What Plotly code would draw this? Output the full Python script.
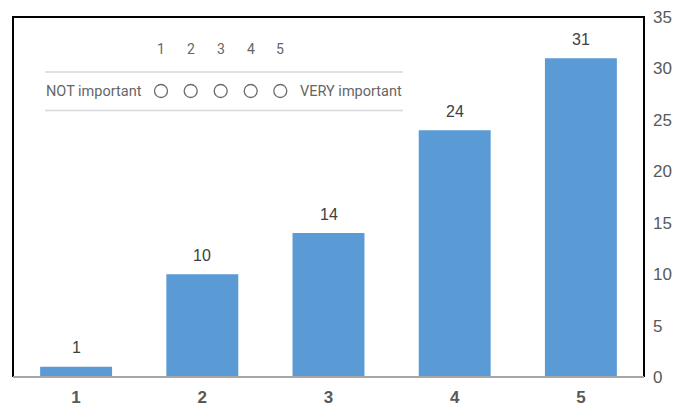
import plotly.graph_objects as go

# Survey results: importance rating (1-5) and number of responses
ratings = ["1", "2", "3", "4", "5"]
responses = [1, 10, 14, 24, 31]

# Rating-scale legend drawn inside the chart
scale_numbers = ["1", "2", "3", "4", "5"]
low_label = "NOT important"
high_label = "VERY important"

W, H = 688, 406
L, R, T, B = 13, 44, 17, 29
PW, PH = W - L - R, H - T - B


def px(x):
    return (x - L) / PW


def py(y):
    return (H - B - y) / PH


BAR_COLOR = "#5b9bd5"
AXIS_TEXT = "#595959"
LABEL_TEXT = "#404040"
FONT = "Liberation Sans, Arial, sans-serif"
SCALE_FONT = "Roboto, Arial, sans-serif"
SCALE_TEXT = "#666666"

fig = go.Figure(
    go.Bar(
        x=ratings,
        y=responses,
        marker=dict(color=BAR_COLOR, line=dict(width=0)),
        width=0.57,
        hoverinfo="x+y",
    )
)

annotations = []
# value labels above each bar (category axis positions are indices)
for i, v in enumerate(responses):
    annotations.append(
        dict(
            x=i, y=v, xref="x", yref="y", text=str(v), showarrow=False,
            yanchor="middle", yshift=19,
            font=dict(family=FONT, size=16, color=LABEL_TEXT),
        )
    )

shapes = []
# frame: black on left, top and right; grey baseline at the bottom
shapes.append(
    dict(type="path", xref="paper", yref="paper",
         path="M 0,0 L 0,1 L 1,1 L 1,0",
         line=dict(color="#000000", width=2), layer="above")
)
shapes.append(
    dict(type="line", xref="paper", yref="paper", x0=0, x1=1, y0=0, y1=0,
         line=dict(color="#a6a6a6", width=2), layer="above")
)

# rating-scale legend: two rules, numbers, circles and end labels
for yline in (72, 110.5):
    shapes.append(
        dict(type="line", xref="paper", yref="paper",
             x0=px(45), x1=px(403), y0=py(yline), y1=py(yline),
             line=dict(color="#d6d8da", width=1.5), layer="above")
    )

circle_x = [161, 190.7, 220.7, 250.7, 280.3]
for cx, num in zip(circle_x, scale_numbers):
    annotations.append(
        dict(x=px(cx), y=py(48.5), xref="paper", yref="paper", text=num,
             showarrow=False, xanchor="center", yanchor="middle",
             font=dict(family=SCALE_FONT, size=14, color=SCALE_TEXT))
    )
    shapes.append(
        dict(type="circle", xref="paper", yref="paper",
             x0=px(cx - 6.5), x1=px(cx + 6.5), y0=py(91 + 6.5), y1=py(91 - 6.5),
             line=dict(color="#6b6b6b", width=1.3), fillcolor="rgba(0,0,0,0)",
             layer="above")
    )

annotations.append(
    dict(x=px(44), y=py(91), xref="paper", yref="paper", text=low_label,
         showarrow=False, xanchor="left", yanchor="middle",
         font=dict(family=SCALE_FONT, size=14.5, color=SCALE_TEXT))
)
annotations.append(
    dict(x=px(404), y=py(91), xref="paper", yref="paper", text=high_label,
         showarrow=False, xanchor="right", yanchor="middle",
         font=dict(family=SCALE_FONT, size=14.5, color=SCALE_TEXT))
)

fig.update_layout(
    width=W, height=H,
    margin=dict(l=L, r=R, t=T, b=B, pad=0),
    paper_bgcolor="white",
    plot_bgcolor="white",
    showlegend=False,
    bargap=0.43,
    annotations=annotations,
    shapes=shapes,
    xaxis=dict(
        type="category",
        range=[-0.5, 4.5],
        showgrid=False, zeroline=False, showline=False,
        ticks="",
        tickfont=dict(family=FONT, size=17, color=AXIS_TEXT, weight="bold"),
        ticklabelstandoff=8,
        automargin=False,
        fixedrange=True,
    ),
    yaxis=dict(
        side="right",
        range=[0, 35],
        tick0=0, dtick=5,
        showgrid=False, zeroline=False, showline=False,
        ticks="",
        tickfont=dict(family=FONT, size=17, color=AXIS_TEXT),
        ticklabelstandoff=8,
        automargin=False,
        fixedrange=True,
    ),
)

fig.write_html("out.html")
